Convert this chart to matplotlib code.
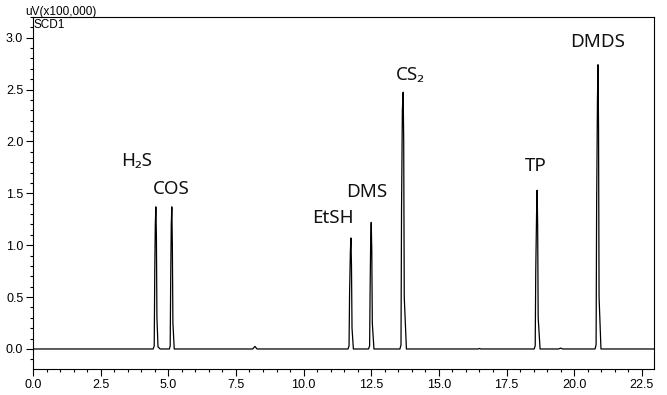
import matplotlib
matplotlib.use('Agg')
import matplotlib.pyplot as plt
from matplotlib.ticker import MultipleLocator, FormatStrFormatter

# traced chromatogram: retention time (min) and signal (uV x 100,000)
times = [0.0, 4.44, 4.48, 4.50, 4.52, 4.54, 4.56, 4.58, 4.62, 4.70,
         5.04, 5.07, 5.09, 5.11, 5.13, 5.15, 5.17, 5.22,
         8.12, 8.20, 8.28,
         11.64, 11.68, 11.70, 11.73, 11.75, 11.77, 11.79, 11.84,
         12.40, 12.44, 12.46, 12.48, 12.50, 12.52, 12.54, 12.60,
         13.56, 13.60, 13.62, 13.65, 13.68, 13.70, 13.72, 13.80,
         16.45, 16.50, 16.55,
         18.52, 18.56, 18.58, 18.61, 18.63, 18.65, 18.67, 18.74,
         19.42, 19.50, 19.58,
         20.77, 20.81, 20.83, 20.86, 20.88, 20.90, 20.92, 20.99,
         22.95]
signal = [0.0, 0.0, 0.03, 0.75, 1.20, 1.37, 1.10, 0.30, 0.02, 0.0,
          0.0, 0.03, 0.70, 1.20, 1.37, 1.00, 0.25, 0.0,
          0.0, 0.025, 0.0,
          0.0, 0.03, 0.55, 0.95, 1.07, 0.80, 0.20, 0.0,
          0.0, 0.03, 0.60, 1.05, 1.22, 0.95, 0.25, 0.0,
          0.0, 0.04, 1.35, 2.30, 2.475, 2.00, 0.50, 0.0,
          0.0, 0.005, 0.0,
          0.0, 0.03, 0.75, 1.30, 1.53, 1.20, 0.30, 0.0,
          0.0, 0.008, 0.0,
          0.0, 0.04, 1.40, 2.40, 2.74, 2.15, 0.50, 0.0,
          0.0]

peak_names = ['H\u2082S', 'COS', 'EtSH', 'DMS', 'CS\u2082', 'TP', 'DMDS']
label_x = [3.84, 5.13, 11.08, 12.34, 13.93, 18.58, 20.87]
label_y = [1.81, 1.54, 1.26, 1.51, 2.64, 1.76, 2.96]

fig = plt.figure(figsize=(6.67, 3.95), dpi=100)
ax = fig.add_axes([33 / 667, 1 - 369 / 395, 621 / 667, 352 / 395])

ax.plot(times, signal, color='black', linewidth=0.9)
ax.set_xlim(0, 22.95)
ax.set_ylim(-0.193, 3.20)

ax.xaxis.set_major_locator(MultipleLocator(2.5))
ax.xaxis.set_minor_locator(MultipleLocator(0.5))
ax.yaxis.set_major_locator(MultipleLocator(0.5))
ax.yaxis.set_minor_locator(MultipleLocator(0.1))
ax.xaxis.set_major_formatter(FormatStrFormatter('%.1f'))
ax.yaxis.set_major_formatter(FormatStrFormatter('%.1f'))

for s in ax.spines.values():
    s.set_linewidth(0.8)
ax.tick_params(which='major', direction='out', length=5, width=0.8,
               labelsize=9, pad=2)
ax.tick_params(which='minor', direction='out', length=2.5, width=0.8)
for lab in ax.get_xticklabels() + ax.get_yticklabels():
    lab.set_fontfamily('Liberation Sans')

for name, x, y in zip(peak_names, label_x, label_y):
    ax.text(x, y, name, ha='center', va='center', fontsize=13.5,
            family=['Noto Sans', 'DejaVu Sans'], color='#111111')

fig.text(25 / 667, 1 - 12 / 395, 'uV(x100,000)', ha='left', va='center',
         fontsize=8.5, family='Liberation Sans')
fig.text(34 / 667, 1 - 25 / 395, 'SCD1', ha='left', va='center',
         fontsize=8.5, family='Liberation Sans')

fig.savefig('out.png', dpi=100)
